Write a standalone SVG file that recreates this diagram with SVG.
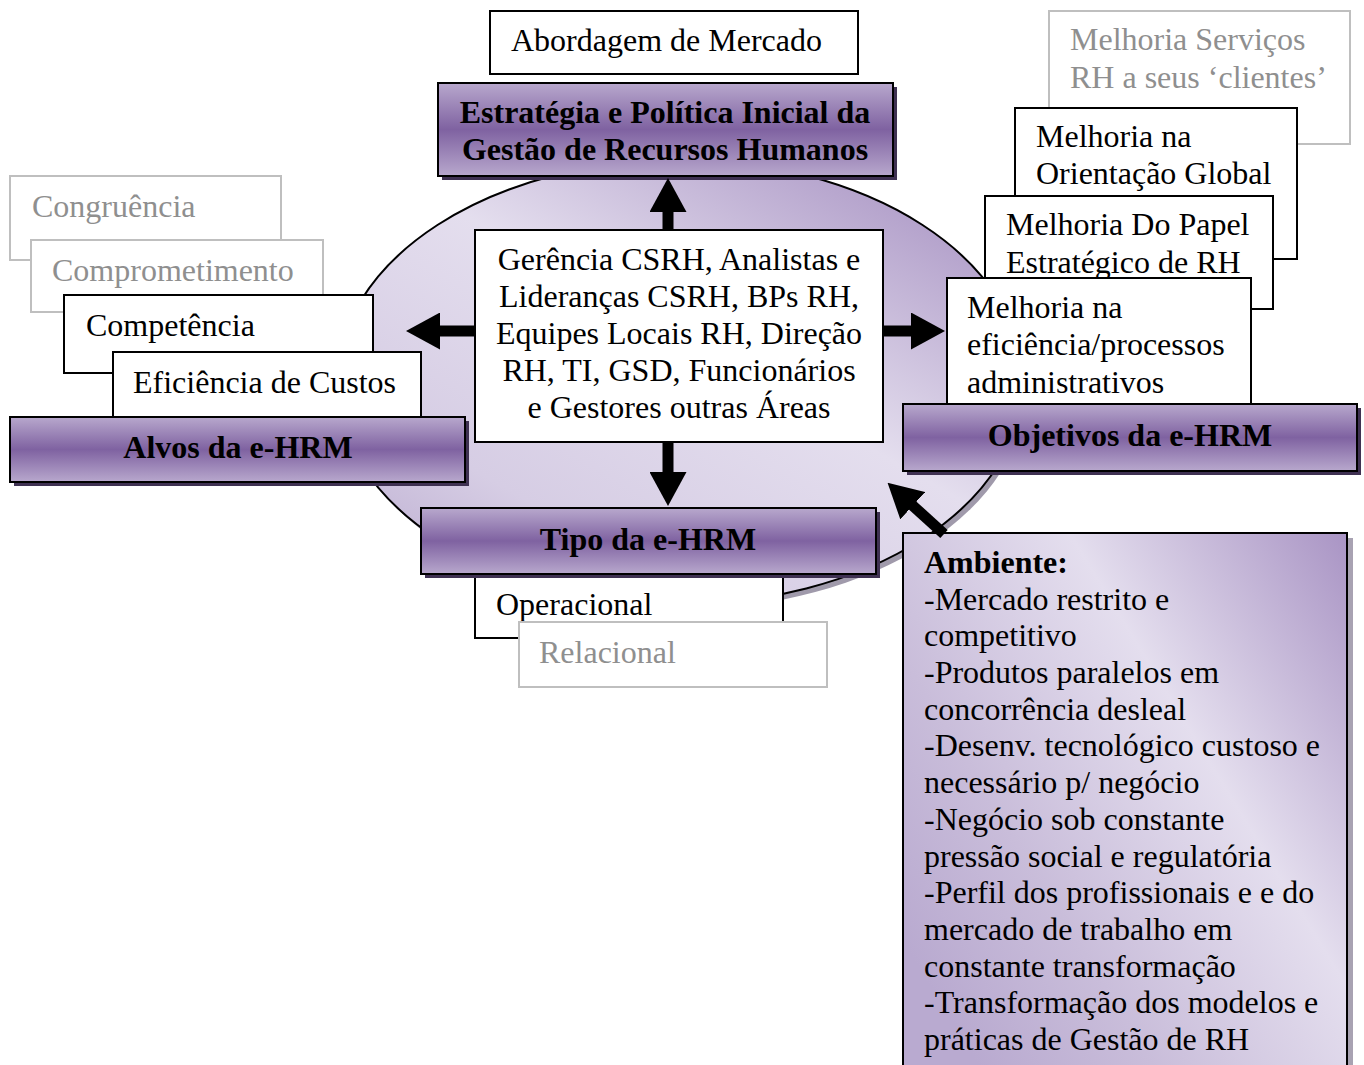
<svg xmlns="http://www.w3.org/2000/svg" width="1364" height="1065" viewBox="0 0 1364 1065">
  <style>
    text { font-family: "Liberation Serif", "Times New Roman", serif; font-size: 32px; fill: #000; }
    .bold { font-weight: bold; }
    .mid { text-anchor: middle; }
    .dim { fill: #8f8f8f; }
    .box { fill: #fff; stroke: #000; stroke-width: 2; }
    .box-dim { fill: #fff; stroke: #bfbfbf; stroke-width: 2; }
    .band { fill: url(#bandFill); stroke: #000; stroke-width: 2; }
    .band-shadow { fill: #3f3152; }
    .arrow { stroke: #000; stroke-width: 11; fill: none; marker-end: url(#head); }
  </style>
  <defs>
    <linearGradient id="bandFill" x1="0" y1="0" x2="0" y2="1">
      <stop offset="0" stop-color="#b8a8cd"/>
      <stop offset="0.5" stop-color="#7f62a1"/>
      <stop offset="1" stop-color="#b8a8cd"/>
    </linearGradient>
    <linearGradient id="ovalFill" x1="0.92" y1="0.05" x2="0.12" y2="0.95">
      <stop offset="0" stop-color="#a893c3"/>
      <stop offset="0.45" stop-color="#e4deee"/>
      <stop offset="0.8" stop-color="#d6cde4"/>
      <stop offset="1" stop-color="#bfb1d3"/>
    </linearGradient>
    <linearGradient id="envFill" x1="1" y1="0" x2="0" y2="0.75">
      <stop offset="0" stop-color="#a994c4"/>
      <stop offset="0.4" stop-color="#e4deee"/>
      <stop offset="0.75" stop-color="#c9bdda"/>
      <stop offset="1" stop-color="#b9aad0"/>
    </linearGradient>
    <marker id="head" markerUnits="userSpaceOnUse" markerWidth="34" markerHeight="37" refX="1" refY="18.5" orient="auto">
      <path d="M0,0 L34,18.5 L0,37 Z" fill="#000"/>
    </marker>
  </defs>

  <!-- central oval with soft shadow -->
  <g id="oval">
    <ellipse cx="684" cy="387" rx="343" ry="222" fill="#a09aab"/>
    <ellipse cx="680" cy="382" rx="343" ry="222" fill="url(#ovalFill)" stroke="#000" stroke-width="2"/>
  </g>

  <!-- market approach label -->
  <g id="abordagem">
    <rect class="box" x="490" y="11" width="368" height="63"/>
    <text x="511" y="51">Abordagem de Mercado</text>
  </g>

  <!-- initial HR strategy band -->
  <g id="estrategia">
    <rect class="band-shadow" x="442" y="87" width="455" height="93"/>
    <rect class="band" x="438" y="83" width="455" height="93"/>
    <text class="bold mid" x="665" y="123">Estratégia e Política Inicial da</text>
    <text class="bold mid" x="665" y="160">Gestão de Recursos Humanos</text>
  </g>

  <!-- actors box -->
  <g id="atores">
    <rect class="box" x="475" y="230" width="408" height="212"/>
    <text class="mid" x="679" y="270">Gerência CSRH, Analistas e</text>
    <text class="mid" x="679" y="307">Lideranças CSRH, BPs RH,</text>
    <text class="mid" x="679" y="344">Equipes Locais RH, Direção</text>
    <text class="mid" x="679" y="381">RH, TI, GSD, Funcionários</text>
    <text class="mid" x="679" y="418">e Gestores outras Áreas</text>
  </g>

  <!-- targets stack -->
  <g id="congruencia">
    <rect class="box-dim" x="10" y="176" width="271" height="84"/>
    <text class="dim" x="32" y="217">Congruência</text>
  </g>
  <g id="comprometimento">
    <rect class="box-dim" x="31" y="240" width="292" height="72"/>
    <text class="dim" x="52" y="281">Comprometimento</text>
  </g>
  <g id="competencia">
    <rect class="box" x="64" y="295" width="309" height="78"/>
    <text x="86" y="336">Competência</text>
  </g>
  <g id="eficiencia-custos">
    <rect class="box" x="113" y="352" width="308" height="66"/>
    <text x="133" y="393">Eficiência de Custos</text>
  </g>
  <g id="alvos">
    <rect class="band-shadow" x="14" y="421" width="455" height="65"/>
    <rect class="band" x="10" y="417" width="455" height="65"/>
    <text class="bold mid" x="238" y="458">Alvos da e-HRM</text>
  </g>

  <!-- objectives stack -->
  <g id="servicos">
    <rect class="box-dim" x="1049" y="11" width="301" height="133"/>
    <text class="dim" x="1070" y="50">Melhoria Serviços</text>
    <text class="dim" x="1070" y="88">RH a seus ‘clientes’</text>
  </g>
  <g id="orientacao">
    <rect class="box" x="1015" y="108" width="282" height="151"/>
    <text x="1036" y="147">Melhoria na</text>
    <text x="1036" y="184">Orientação Global</text>
  </g>
  <g id="papel">
    <rect class="box" x="985" y="196" width="288" height="113"/>
    <text x="1006" y="235">Melhoria Do Papel</text>
    <text x="1006" y="273">Estratégico de RH</text>
  </g>
  <g id="processos">
    <rect class="box" x="947" y="278" width="304" height="130"/>
    <text x="967" y="318">Melhoria na</text>
    <text x="967" y="355">eficiência/processos</text>
    <text x="967" y="393">administrativos</text>
  </g>
  <g id="objetivos">
    <rect class="band-shadow" x="907" y="408" width="454" height="67"/>
    <rect class="band" x="903" y="404" width="454" height="67"/>
    <text class="bold mid" x="1130" y="446">Objetivos da e-HRM</text>
  </g>

  <!-- type stack -->
  <g id="operacional">
    <rect class="box" x="475" y="560" width="308" height="78"/>
    <text x="496" y="615">Operacional</text>
  </g>
  <g id="relacional">
    <rect class="box-dim" x="519" y="622" width="308" height="65"/>
    <text class="dim" x="539" y="663">Relacional</text>
  </g>
  <g id="tipo">
    <rect class="band-shadow" x="425" y="512" width="455" height="66"/>
    <rect class="band" x="421" y="508" width="455" height="66"/>
    <text class="bold mid" x="648" y="550">Tipo da e-HRM</text>
  </g>

  <!-- environment panel -->
  <g id="ambiente">
    <rect x="908" y="538" width="445" height="540" fill="#a8a2b2"/>
    <rect x="903" y="533" width="444" height="545" fill="url(#envFill)" stroke="#000" stroke-width="2"/>
    <text class="bold" x="924" y="573">Ambiente:</text>
    <text x="924" y="610">-Mercado restrito e</text>
    <text x="924" y="646">competitivo</text>
    <text x="924" y="683">-Produtos paralelos em</text>
    <text x="924" y="720">concorrência desleal</text>
    <text x="924" y="756">-Desenv. tecnológico custoso e</text>
    <text x="924" y="793">necessário p/ negócio</text>
    <text x="924" y="830">-Negócio sob constante</text>
    <text x="924" y="867">pressão social e regulatória</text>
    <text x="924" y="903">-Perfil dos profissionais e e do</text>
    <text x="924" y="940">mercado de trabalho em</text>
    <text x="924" y="977">constante transformação</text>
    <text x="924" y="1013">-Transformação dos modelos e</text>
    <text x="924" y="1050">práticas de Gestão de RH</text>
  </g>

  <!-- connectors -->
  <g id="connectors">
    <line class="arrow" x1="668" y1="231" x2="668" y2="211"/>
    <line class="arrow" x1="475" y1="331" x2="439" y2="331"/>
    <line class="arrow" x1="883" y1="331" x2="912" y2="331"/>
    <line class="arrow" x1="668" y1="442" x2="668" y2="473"/>
    <line class="arrow" x1="944" y1="534" x2="912" y2="505"/>
  </g>
</svg>
